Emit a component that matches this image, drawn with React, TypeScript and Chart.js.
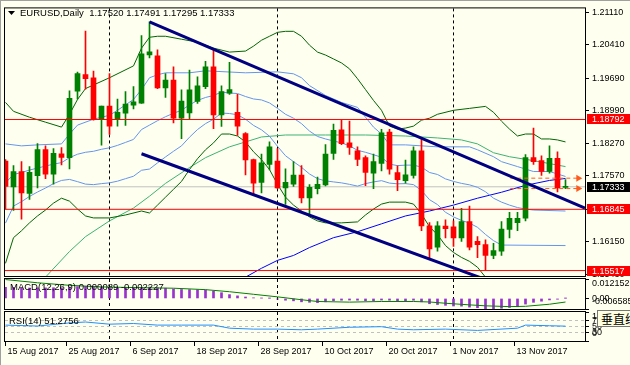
import { useEffect, useRef } from "react";
import { Chart, registerables } from "chart.js";
Chart.register(...registerables);

// ---------------- data ----------------
const opens = [1.17889,1.17328,1.17664,1.17187,1.17572,1.18141,1.17606,1.18049,1.17964,1.19404,
1.19768,1.19697,1.18792,1.19083,1.18792,1.18927,1.19104,1.19147,1.20189,1.20174,
1.19477,1.19648,1.18820,1.18933,1.19183,1.19504,1.19932,1.18890,1.19361,1.18948,
1.18484,1.17921,1.17429,1.17820,1.17893,1.17307,1.17392,1.17585,1.17093,1.17294,
1.17371,1.18056,1.18569,1.18285,1.18113,1.17964,1.17628,1.17842,1.18520,1.17643,
1.17465,1.17578,1.18113,1.16487,1.16023,1.16481,1.16466,1.16224,1.16579,1.16151,
1.16080,1.15845,1.15937,1.16408,1.16558,1.16652,1.17964,1.17899,1.17664,1.17949,
1.17320];
const highs = [1.17921,1.17792,1.17878,1.17771,1.18270,1.18220,1.18163,1.18184,1.19412,1.19819,
1.20709,1.19840,1.19083,1.19789,1.19233,1.19397,1.19504,1.20611,1.20910,1.20303,
1.19789,1.19932,1.19434,1.19862,1.19718,1.20054,1.20324,1.19519,1.20033,1.19340,
1.18509,1.17936,1.18043,1.18306,1.18163,1.17722,1.17878,1.17792,1.17379,1.17542,
1.18248,1.18691,1.18792,1.18755,1.18199,1.18006,1.18043,1.18578,1.18578,1.17786,
1.17914,1.18199,1.18392,1.16558,1.16579,1.16615,1.16594,1.16866,1.16915,1.16252,
1.16181,1.16108,1.16579,1.16780,1.16780,1.18034,1.18606,1.18006,1.18220,1.18092,
1.17491];
const lows = [1.16851,1.16823,1.16630,1.17058,1.17307,1.17508,1.17392,1.17807,1.17722,1.19233,
1.19447,1.18777,1.18235,1.18471,1.18648,1.18663,1.19019,1.19141,1.20125,1.19462,
1.19269,1.18719,1.18377,1.18805,1.19141,1.19462,1.18591,1.18642,1.19333,1.18449,
1.17593,1.17165,1.17200,1.17700,1.17294,1.16951,1.17343,1.16986,1.16701,1.17178,
1.17354,1.17927,1.18248,1.18034,1.17792,1.17358,1.17294,1.17679,1.17606,1.17251,
1.17414,1.17521,1.16380,1.15774,1.15937,1.16224,1.16038,1.16151,1.15967,1.15796,
1.15524,1.15774,1.15845,1.16224,1.16380,1.16594,1.17820,1.17578,1.17628,1.17221,
1.17295];
const closes = [1.17343,1.17664,1.17200,1.17649,1.18141,1.17606,1.18056,1.17970,1.19248,1.19789,
1.19676,1.18792,1.19083,1.18648,1.18948,1.19126,1.19177,1.20217,1.20260,1.19477,
1.19648,1.18820,1.19190,1.19434,1.19519,1.19932,1.18890,1.19397,1.19440,1.18648,
1.17914,1.17414,1.17850,1.18199,1.17307,1.17429,1.17585,1.17093,1.17322,1.17386,
1.18043,1.18556,1.18270,1.18184,1.17927,1.17643,1.17878,1.18505,1.17713,1.17486,
1.17593,1.18113,1.16487,1.15988,1.16487,1.16423,1.16224,1.16579,1.16023,1.16080,
1.15845,1.15952,1.16416,1.16652,1.16652,1.17964,1.17878,1.17664,1.17949,1.17307,
1.17333];

// indicator lines: [bar index, value]
const outerUpper: [number, number][] = [[0,1.19162],[1,1.18969],[3,1.18841],[5,1.18734],[7,1.18627],[8,1.18905],[9,1.19226],[10,1.19462],[13,1.19697],[16,1.19954],[17,1.20339],[18,1.20574],[19,1.20596],[20,1.20596],[22,1.20532],[24,1.20467],[26,1.20339],[28,1.20253],[30,1.20275],[31,1.20382],[32,1.20510],[33,1.20596],[34,1.20681],[35,1.20703],[36,1.20703],[37,1.20596],[38,1.20403],[39,1.20253],[40,1.20189],[41,1.20104],[42,1.20018],[43,1.19890],[44,1.19676],[45,1.19440],[46,1.19205],[47,1.18991],[48,1.18648],[49,1.18584],[50,1.18606],[51,1.18648],[52,1.18777],[53,1.18820],[54,1.18905],[56,1.18991],[58,1.19033],[60,1.19076],[61,1.18948],[62,1.18755],[63,1.18584],[64,1.18434],[65,1.18477],[66,1.18477],[67,1.18370],[68,1.18370],[69,1.18349],[70,1.18306]];
const outerLower: [number, number][] = [[0,1.15674],[1,1.16230],[2,1.16380],[3,1.16551],[4,1.16701],[5,1.16829],[6,1.16979],[7,1.17086],[8,1.17022],[9,1.16851],[10,1.16701],[11,1.16658],[13,1.16658],[15,1.16722],[17,1.16808],[18,1.16765],[19,1.16936],[20,1.17108],[21,1.17279],[22,1.17450],[23,1.17707],[24,1.17942],[25,1.18135],[26,1.18285],[27,1.18477],[28,1.18477],[29,1.18434],[30,1.18306],[31,1.18092],[32,1.17921],[33,1.17707],[34,1.17386],[35,1.17108],[36,1.16936],[37,1.16808],[38,1.16680],[39,1.16594],[40,1.16551],[42,1.16551],[44,1.16572],[45,1.16722],[46,1.16851],[47,1.16958],[48,1.17001],[50,1.17001],[51,1.16958],[52,1.16744],[53,1.16466],[54,1.16294],[55,1.16059],[56,1.15909],[57,1.15802],[58,1.15717],[59,1.15589],[60,1.15374],[61,1.15250]];
const innerUpper: [number, number][] = [[0,1.18263],[2,1.18220],[4,1.18242],[7,1.18263],[8,1.18477],[9,1.18670],[11,1.18798],[13,1.18884],[14,1.18991],[16,1.19226],[17,1.19440],[18,1.19697],[19,1.19761],[20,1.19804],[23,1.19804],[25,1.19847],[30,1.19804],[34,1.19825],[36,1.19782],[37,1.19697],[38,1.19526],[40,1.19312],[42,1.19162],[44,1.19055],[45,1.18841],[46,1.18627],[47,1.18477],[48,1.18242],[50,1.18242],[54,1.18199],[58,1.18199],[59,1.18135],[61,1.17985],[62,1.17878],[64,1.17771],[66,1.17664],[68,1.17664],[70,1.17557]];
const innerMiddle: [number, number][] = [[0,1.17418],[1,1.17600],[2,1.17643],[3,1.17696],[4,1.17739],[5,1.17782],[6,1.17825],[7,1.17857],[8,1.17964],[9,1.18039],[10,1.18081],[11,1.18103],[12,1.18146],[13,1.18178],[14,1.18231],[15,1.18295],[16,1.18360],[17,1.18574],[18,1.18670],[19,1.18766],[20,1.18852],[21,1.18927],[22,1.18991],[23,1.19109],[24,1.19205],[25,1.19269],[26,1.19312],[27,1.19387],[28,1.19365],[29,1.19355],[30,1.19290],[31,1.19237],[32,1.19216],[33,1.19151],[34,1.19034],[35,1.18905],[36,1.18820],[37,1.18702],[38,1.18541],[39,1.18424],[40,1.18370],[41,1.18327],[42,1.18285],[43,1.18220],[44,1.18124],[45,1.18081],[46,1.18028],[47,1.17974],[48,1.17825],[49,1.17792],[50,1.17803],[51,1.17803],[52,1.17760],[53,1.17643],[54,1.17600],[55,1.17504],[56,1.17450],[57,1.17407],[58,1.17375],[59,1.17322],[60,1.17225],[61,1.17086],[62,1.17001],[63,1.16936],[64,1.16883],[65,1.16851],[66,1.16829],[70,1.16808]];
const innerLower: [number, number][] = [[0,1.16546],[1,1.16915],[2,1.17011],[3,1.17124],[4,1.17220],[5,1.17306],[6,1.17402],[7,1.17471],[8,1.17493],[9,1.17445],[10,1.17391],[11,1.17380],[12,1.17402],[13,1.17418],[14,1.17455],[15,1.17509],[16,1.17562],[17,1.17691],[18,1.17718],[19,1.17851],[20,1.17980],[21,1.18103],[22,1.18220],[23,1.18408],[24,1.18574],[25,1.18702],[26,1.18798],[27,1.18932],[28,1.18921],[29,1.18895],[30,1.18798],[31,1.18664],[32,1.18568],[33,1.18429],[34,1.18210],[35,1.18006],[36,1.17878],[37,1.17755],[38,1.17611],[39,1.17509],[40,1.17461],[41,1.17439],[42,1.17418],[43,1.17386],[44,1.17348],[45,1.17402],[46,1.17439],[47,1.17466],[48,1.17413],[49,1.17397],[50,1.17402],[51,1.17380],[52,1.17252],[53,1.17054],[54,1.16947],[55,1.16781],[56,1.16680],[57,1.16605],[58,1.16546],[59,1.16455],[60,1.16300],[61,1.16166],[62,1.16070],[70,1.16059]];
const slowMa: [number, number][] = [[4,1.15300],[5,1.15374],[8,1.15931],[10,1.16252],[13,1.16594],[16,1.16872],[18,1.17129],[20,1.17407],[23,1.17750],[25,1.17964],[28,1.18199],[30,1.18306],[32,1.18413],[35,1.18456],[40,1.18456],[45,1.18456],[50,1.18434],[54,1.18392],[57,1.18349],[59,1.18263],[61,1.18071],[63,1.17985],[66,1.17900],[68,1.17836],[70,1.17771]];
const longMa: [number, number][] = [[29,1.15300],[30,1.15374],[32,1.15567],[34,1.15738],[36,1.15845],[38,1.16016],[41,1.16230],[44,1.16359],[47,1.16530],[50,1.16701],[53,1.16808],[56,1.16936],[59,1.17086],[62,1.17215],[65,1.17364],[68,1.17471],[70,1.17514]];

const trendUpper: [number, number][] = [[18,1.20910],[72.44,1.16872]];
const trendLower: [number, number][] = [[17,1.18049],[60,1.15323]];
const redLevels = [1.18792, 1.16845, 1.15517];
const bidPrice = 1.17333;
const orangeLevels = [1.17520, 1.17295];
const orangeFrom = 63.1;
const orangeTo = 71.6;

const priceTicks = [1.2111, 1.2041, 1.1969, 1.1899, 1.1827, 1.1757, 1.1685, 1.1615, 1.1543];

const macdHist = [0.0070,0.0069,0.0066,0.0065,0.0066,0.0066,0.0067,0.0067,0.0071,0.0074,
0.0075,0.0072,0.0071,0.0069,0.0068,0.0068,0.0067,0.0070,0.0071,0.0067,
0.0064,0.0059,0.0056,0.0055,0.0054,0.0053,0.0045,0.0036,0.0024,0.0016,
0.0009,0.0004,0.0002,0.0001,-0.0004,-0.0011,-0.0015,-0.0021,-0.0024,-0.0026,
-0.0021,-0.0014,-0.0011,-0.0010,-0.0011,-0.0014,-0.0014,-0.0010,-0.0011,-0.0014,
-0.0015,-0.0011,-0.0021,-0.0033,-0.0038,-0.0043,-0.0047,-0.0048,-0.0054,-0.0058,
-0.0064,-0.0065,-0.0061,-0.0056,-0.0052,-0.0035,-0.0024,-0.0017,-0.0009,-0.0005,
0.000089];
const macdSignal: [number, number][] = [[0,0.0118],[4,0.0098],[8,0.0082],[12,0.0072],[16,0.0068],[21,0.0064],[25,0.0055],[28,0.0042],[31,0.0026],[34,0.0010],[37,-0.0008],[39,-0.0019],[43,-0.0023],[47,-0.0019],[51,-0.0019],[53,-0.0022],[55,-0.0030],[58,-0.0040],[60,-0.0046],[63,-0.0051],[65,-0.0049],[68,-0.0036],[70,-0.002227]];
const macdTicks = [0.012152, 0, -0.006585];

const rsiLine: [number, number][] = [[0,54.8],[4,51.6],[8,62.3],[10,65.5],[13,58],[16,60.3],[19,54.8],[22,54.8],[26,54.8],[28,44.2],[31,41],[34,41],[37,38.7],[39,41],[43,47.4],[47,49.4],[49,41],[51,38.7],[55,41],[59,36.5],[64,44.2],[65,54.8],[68,52.6],[70,51.28]];
const rsiLevels = [70, 50, 30];
const rsiTicks = [100, 70, 50, 30, 0];

const dateLabels = ["15 Aug 2017","25 Aug 2017","6 Sep 2017","18 Sep 2017","28 Sep 2017","10 Oct 2017","20 Oct 2017","1 Nov 2017","13 Nov 2017"];
const dateBars = [0, 8, 16, 24, 32, 40, 48, 56, 64];
const separatorBars = [13, 34, 56];

const headerText = "EURUSD,Daily  1.17520 1.17491 1.17295 1.17333";
const macdText = "MACD(12,26,9) 0.000089 -0.002227";
const rsiText = "RSI(14) 51.2756";

// ---------------- styling ----------------
const BG = "#FFFFF0";
const FONT = '"Liberation Sans", Arial, sans-serif';
const X_MIN = -0.0625, X_MAX = 72.4375;
const AXIS_W = 45;
const UP = "#008000", DOWN = "#FF0000";

const pts = (p: [number, number][]) => p.map(([x, y]) => ({ x, y }));
const hline = (v: number) => [{ x: X_MIN, y: v }, { x: X_MAX, y: v }];

function lineDs(data: any[], color: string, width = 1, order = 5, extra: any = {}) {
  return { type: "line", data, borderColor: color, borderWidth: width, pointRadius: 0, tension: 0, fill: false, order, clip: 0, ...extra };
}

function xAxis() {
  return { type: "linear", min: X_MIN, max: X_MAX, display: false, offset: false };
}

function yAxis(min: number, max: number, ticks: number[], fmt: (v: number) => string, showLabels = true) {
  return {
    type: "linear", position: "right", min, max,
    afterFit: (s: any) => { s.width = AXIS_W; },
    afterBuildTicks: (s: any) => { s.ticks = ticks.map((v) => ({ value: v })); },
    grid: { drawOnChartArea: false, drawTicks: true, tickLength: 4, color: "#000", tickColor: "#000" },
    border: { display: false },
    ticks: { display: showLabels, padding: 3, color: "#000", font: { family: FONT, size: 9 }, callback: (v: any) => fmt(Number(v)) },
  };
}

// tick labels of a small sub-window, kept inside the window like the terminal does
function clampedLabels(chart: any, values: number[], fmt: (v: number) => string) {
  const { ctx, chartArea: a, scales } = chart;
  ctx.save();
  ctx.fillStyle = "#000";
  ctx.font = `9px ${FONT}`;
  ctx.textBaseline = "middle";
  ctx.textAlign = "left";
  for (const v of values) {
    let y = scales.y.getPixelForValue(v);
    y = Math.max(a.top + 5, Math.min(a.bottom - 7, y));
    ctx.fillText(fmt(v), 592, y);
  }
  ctx.restore();
}

const panelPlugin = {
  id: "panel",
  beforeDatasetsDraw(chart: any) {
    const { ctx, chartArea: a, scales } = chart;
    ctx.save();
    ctx.strokeStyle = "#000";
    ctx.lineWidth = 1;
    ctx.setLineDash([3, 3]);
    for (const b of separatorBars) {
      const x = Math.floor(scales.x.getPixelForValue(b)) + 0.5;
      ctx.beginPath(); ctx.moveTo(x, a.top); ctx.lineTo(x, a.bottom); ctx.stroke();
    }
    ctx.restore();
  },
  afterDraw(chart: any) {
    const { ctx, chartArea: a } = chart;
    ctx.save();
    ctx.strokeStyle = "#000";
    ctx.lineWidth = 1;
    ctx.strokeRect(a.left - 0.5, a.top - 0.5, a.right - a.left + 1, a.bottom - a.top + 1);
    ctx.restore();
  },
};

function baseOptions(padding: any, scales: any) {
  return {
    responsive: false, animation: false, events: [],
    layout: { padding },
    plugins: { legend: { display: false }, tooltip: { enabled: false }, title: { display: false } },
    scales,
  };
}

function priceLabel(ctx: any, y: number, text: string, bg: string) {
  ctx.fillStyle = bg;
  ctx.fillRect(587, Math.round(y) - 5, 43, 10);
  ctx.fillStyle = "#fff";
  ctx.font = `9px ${FONT}`;
  ctx.textBaseline = "middle";
  ctx.textAlign = "left";
  ctx.fillText(text, 592, Math.round(y) + 0.5);
}

function makeMain(canvas: HTMLCanvasElement) {
  const n = opens.length;
  const idx = Array.from({ length: n }, (_, i) => i);
  const colors = idx.map((i) => (closes[i] >= opens[i] ? UP : DOWN));
  const labelsPlugin = {
    id: "mainLabels",
    afterDraw(chart: any) {
      const { ctx, scales } = chart;
      ctx.save();
      for (const v of redLevels) priceLabel(ctx, scales.y.getPixelForValue(v), v.toFixed(5), "#FF0000");
      priceLabel(ctx, scales.y.getPixelForValue(bidPrice), bidPrice.toFixed(5), "#000000");
      ctx.fillStyle = "#000";
      ctx.beginPath(); ctx.moveTo(8, 11); ctx.lineTo(15, 11); ctx.lineTo(11.5, 15); ctx.closePath(); ctx.fill();
      ctx.font = `9.5px ${FONT}`;
      ctx.textBaseline = "middle";
      ctx.textAlign = "left";
      ctx.fillText(headerText, 20, 13);
      ctx.restore();
    },
  };
  return new Chart(canvas, {
    type: "bar",
    data: {
      datasets: [
        lineDs(hline(bidPrice), "#C0C0C0", 1, 20),
        lineDs(pts(outerUpper), "#006400", 1, 10),
        lineDs(pts(outerLower), "#006400", 1, 10),
        lineDs(pts(innerUpper), "#6495ED", 1, 10),
        lineDs(pts(innerMiddle), "#6495ED", 1, 10),
        lineDs(pts(innerLower), "#6495ED", 1, 10),
        lineDs(pts(slowMa), "#3CB371", 1, 10),
        lineDs(pts(longMa), "#0000FF", 1, 10),
        {
          type: "bar", data: idx.map((i) => ({ x: i, y: [lows[i], highs[i]] })),
          backgroundColor: colors, borderWidth: 0, barThickness: 1, grouped: false, order: 4,
        },
        {
          type: "bar", data: idx.map((i) => ({ x: i, y: [opens[i], closes[i]] })),
          backgroundColor: colors, borderWidth: 0, barThickness: 5, minBarLength: 1, grouped: false, order: 3,
        },
        ...redLevels.map((v) => lineDs(hline(v), "#FF0000", 1, 2)),
        ...orangeLevels.map((v) => lineDs([{ x: orangeFrom, y: v }, { x: orangeTo, y: v }], "#FF5A1E", 1, 1, {
          borderDash: [4, 3], pointRadius: [0, 4], pointStyle: "triangle", pointRotation: 90,
          pointBackgroundColor: "#FF5A1E", pointBorderWidth: 0, clip: false,
        })),
        lineDs(pts(trendUpper), "#000080", 3, 0),
        lineDs(pts(trendLower), "#000080", 3, 0),
      ] as any,
    },
    options: baseOptions({ left: 5, top: 5, right: 0, bottom: 365 - 276 }, {
      x: xAxis(),
      y: yAxis(1.153993, 1.212, priceTicks, (v) => v.toFixed(5)),
    }) as any,
    plugins: [panelPlugin, labelsPlugin],
  });
}

function makeMacd(canvas: HTMLCanvasElement) {
  const idx = macdHist.map((_, i) => i);
  const fmt = (v: number) => (v === 0 ? "0.00" : v.toFixed(6));
  const textPlugin = {
    id: "macdText",
    afterDraw(chart: any) {
      const { ctx } = chart;
      ctx.save();
      ctx.fillStyle = "#000";
      ctx.font = `9.5px ${FONT}`;
      ctx.textBaseline = "middle";
      ctx.fillText(macdText, 10, 287);
      ctx.restore();
      clampedLabels(chart, macdTicks, fmt);
    },
  };
  return new Chart(canvas, {
    type: "bar",
    data: {
      datasets: [
        { type: "bar", data: idx.map((i) => ({ x: i, y: [0, macdHist[i]] })), backgroundColor: "#9932CC", borderWidth: 0, barThickness: 2, grouped: false, order: 2 },
        lineDs(pts(macdSignal), "#008000", 1, 1),
      ] as any,
    },
    options: baseOptions({ left: 5, top: 279, right: 0, bottom: 365 - 309 }, {
      x: xAxis(),
      y: yAxis(-0.006585, 0.012152, macdTicks, fmt, false),
    }) as any,
    plugins: [panelPlugin, textPlugin],
  });
}

function makeRsi(canvas: HTMLCanvasElement) {
  const plug = {
    id: "rsiExtra",
    beforeDatasetsDraw(chart: any) {
      const { ctx, chartArea: a, scales } = chart;
      ctx.save();
      ctx.strokeStyle = "#C0C0C0";
      ctx.setLineDash([3, 3]);
      for (const l of rsiLevels) {
        const y = Math.floor(scales.y.getPixelForValue(l)) + 0.5;
        ctx.beginPath(); ctx.moveTo(a.left, y); ctx.lineTo(a.right, y); ctx.stroke();
      }
      ctx.restore();
    },
    afterDraw(chart: any) {
      const { ctx, chartArea: a, scales } = chart;
      clampedLabels(chart, rsiTicks, (v) => String(v));
      ctx.save();
      ctx.fillStyle = "#000";
      ctx.font = `9.5px ${FONT}`;
      ctx.textBaseline = "middle";
      ctx.fillText(rsiText, 9, 321);
      ctx.strokeStyle = "#000";
      ctx.lineWidth = 1;
      ctx.font = `9px ${FONT}`;
      dateBars.forEach((b, k) => {
        let x = Math.floor(scales.x.getPixelForValue(b - 0.375)) + 0.5;
        if (x < a.left) x = a.left + 0.5;
        ctx.beginPath(); ctx.moveTo(x, a.bottom + 1); ctx.lineTo(x, a.bottom + 5); ctx.stroke();
        ctx.fillText(dateLabels[k], x + 2, 352);
      });
      ctx.restore();
    },
  };
  return new Chart(canvas, {
    type: "line",
    data: { datasets: [lineDs(pts(rsiLine), "#1E90FF", 1, 1)] as any },
    options: baseOptions({ left: 5, top: 312, right: 0, bottom: 365 - 341 }, {
      x: xAxis(),
      y: yAxis(0, 100, rsiTicks, (v) => String(v), false),
    }) as any,
    plugins: [panelPlugin, plug],
  });
}

export default function App() {
  const mainRef = useRef<HTMLCanvasElement>(null);
  const macdRef = useRef<HTMLCanvasElement>(null);
  const rsiRef = useRef<HTMLCanvasElement>(null);
  useEffect(() => {
    const charts = [makeMain(mainRef.current!), makeMacd(macdRef.current!), makeRsi(rsiRef.current!)];
    return () => charts.forEach((c) => c.destroy());
  }, []);
  const cv: any = { position: "absolute", left: 0, top: 0 };
  return (
    <div style={{ position: "fixed", left: 0, top: 0, width: 630, height: 365, background: BG, overflow: "hidden" }}>
      <div style={{ position: "absolute", left: 0, top: 0, width: 630, height: 1, background: "#A0A0A0" }} />
      <div style={{ position: "absolute", left: 0, top: 0, width: 1, height: 365, background: "#A0A0A0" }} />
      <canvas ref={mainRef} width={630} height={365} style={cv} />
      <canvas ref={macdRef} width={630} height={365} style={cv} />
      <canvas ref={rsiRef} width={630} height={365} style={cv} />
      <div style={{ position: "absolute", left: 597, top: 310, width: 60, height: 17, background: "#FFFFE1", border: "1px solid #767676", boxSizing: "border-box", font: '12px "Noto Sans CJK SC"', lineHeight: "15px", paddingLeft: 3, whiteSpace: "nowrap", color: "#000" }}>垂直线</div>
    </div>
  );
}
